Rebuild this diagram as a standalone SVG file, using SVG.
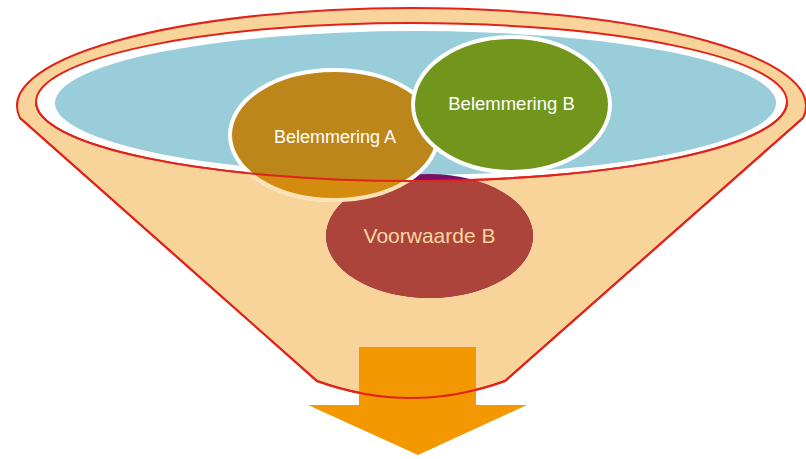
<svg xmlns="http://www.w3.org/2000/svg" width="806" height="459" viewBox="0 0 806 459">
  <style>
    .rim { stroke: #E2231A; stroke-width: 2; }
    .node-stroke { stroke: #FFFFFF; stroke-width: 4; }
    .label { font-family: "Liberation Sans", Arial, sans-serif; text-anchor: middle; }
  </style>
  <defs>
    <path id="funnelOutline" d="M 20,118 A 394.5 98 0 1 1 803,118 L 505,381 Q 411,415 317,381 Z"/>
    <clipPath id="frontClip">
      <path d="M 36,102 A 375.5 79 0 0 0 787,102 L 806,102 L 806,459 L 0,459 L 0,102 Z"/>
    </clipPath>
  </defs>

  <g id="funnel">
    <use href="#funnelOutline" fill="#F8D49A" class="rim"/>
    <ellipse cx="411.5" cy="102" rx="375.5" ry="79" fill="#FFFFFF" class="rim"/>
    <ellipse cx="415.5" cy="103" rx="360.5" ry="72" fill="#99CDDA"/>
  </g>

  <g id="hidden-part">
    <ellipse cx="429.5" cy="236" rx="103.5" ry="62" fill="#7B1064"/>
  </g>

  <g id="node-belemmering-a">
    <ellipse cx="334" cy="135" rx="104" ry="65" fill="#BD861B" class="node-stroke"/>
    <text x="335" y="143" class="label" font-size="18" fill="#FFFFFF">Belemmering A</text>
  </g>

  <g id="node-belemmering-b">
    <ellipse cx="511.5" cy="104.5" rx="98.5" ry="67.5" fill="#72961C" class="node-stroke"/>
    <text x="511.5" y="110" class="label" font-size="18.5" fill="#FFFFFF">Belemmering B</text>
  </g>

  <g id="funnel-front" clip-path="url(#frontClip)">
    <ellipse cx="429.5" cy="236" rx="103.5" ry="62" fill="#AC443C"/>
    <ellipse cx="334" cy="135" rx="104" ry="65" fill="#D38B10" stroke="#FBE1B4" stroke-width="4"/>
  </g>

  <g id="node-voorwaarde-b">
    <text x="429.5" y="243" class="label" font-size="21" fill="#F9D7A0">Voorwaarde B</text>
  </g>

  <g id="connectors">
    <path d="M 359,347 L 476,347 L 476,405 L 527,405 L 418,455 L 308,405 L 359,405 Z" fill="#F39800"/>
  </g>

  <g id="rim-lines" fill="none">
    <path d="M 36,102 A 375.5 79 0 0 0 787,102" class="rim"/>
    <path d="M 803,118 L 505,381 Q 411,415 317,381 L 20,118" class="rim"/>
  </g>
</svg>
